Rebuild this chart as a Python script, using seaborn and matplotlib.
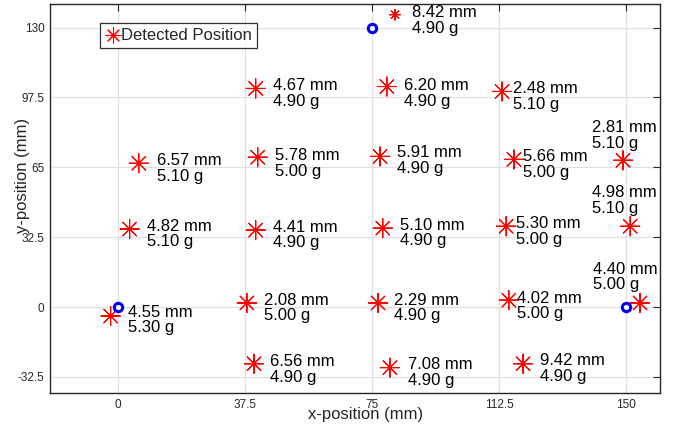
import numpy as np
import pandas as pd
import matplotlib
matplotlib.use("Agg")
import matplotlib.pyplot as plt
from matplotlib.ticker import FormatStrFormatter
import seaborn as sns

# true (reference) positions
ref_x = [0, 75, 150]
ref_y = [0, 130, 0]

# detected positions, with error (mm) and weight (g)
det_x = [81.8, 40.7, 79.4, 113.4, 6.2, 41.3, 77.4, 116.9, 149.1, 3.5, 40.7,
         78.2, 114.6, 151.2, -2.1, 38.1, 76.8, 115.4, 154.1, 40.2, 80.3, 119.6]
det_y = [136.0, 101.7, 102.6, 100.3, 66.9, 69.7, 70.1, 68.7, 68.3, 36.3, 35.8,
         36.7, 37.6, 37.6, -4.2, 1.9, 1.9, 3.2, 1.9, -26.4, -28.2, -26.4]
err_mm = ["8.42", "4.67", "6.20", "2.48", "6.57", "5.78", "5.91", "5.66", "2.81",
          "4.82", "4.41", "5.10", "5.30", "4.98", "4.55", "2.08", "2.29", "4.02",
          "4.40", "6.56", "7.08", "9.42"]
weight_g = ["4.90", "4.90", "4.90", "5.10", "5.10", "5.00", "4.90", "5.00", "5.10",
            "5.10", "4.90", "4.90", "5.00", "5.10", "5.30", "5.00", "4.90", "5.00",
            "5.00", "4.90", "4.90", "4.90"]

x_ticks = [0, 37.5, 75, 112.5, 150]
y_ticks = [-32.5, 0, 32.5, 65, 97.5, 130]

# label offsets in pixels (dx right, dy down)
lab_dx = [17, 17, 17, 11, 18, 17, 17, 9, -31, 17, 17, 17, 10, -38, 17, 17, 16, 8, -47, 16, 18, 17]
lab_dy = [6, 5, 7, 5, 5, 6, 4, 5, -25, 5, 5, 5, 5, -26, 4, 5, 5, 6, -26, 6, 5, 5]

df = pd.DataFrame({"x": det_x, "y": det_y, "mm": err_mm, "g": weight_g})

sns.set_style("white")
plt.rcParams["font.family"] = ["Liberation Sans", "DejaVu Sans"]

fig, ax = plt.subplots(figsize=(6.83, 4.25), dpi=100)
fig.subplots_adjust(left=0.0732, right=0.9663, top=0.9906, bottom=0.0753)

star = (8, 2, 0)
sizes = [60 if m == "8.42" else 190 for m in err_mm]
ax.scatter(df["x"], df["y"], marker=star, s=sizes, color="red", linewidths=0.8,
           label="Detected Position", zorder=3)
sns.scatterplot(x=ref_x, y=ref_y, ax=ax, marker="o", s=36, facecolor="white",
                edgecolor="blue", linewidth=2.2, zorder=4, legend=False)

for i, row in df.iterrows():
    ax.annotate(f"{row['mm']} mm\n{row['g']} g", (row["x"], row["y"]),
                xytext=(lab_dx[i], -lab_dy[i]), textcoords="offset pixels",
                ha="left", va="center", fontsize=12, linespacing=1.05, color="black")

ax.set_xlim(-20, 160)
ax.set_ylim(-40, 141)
ax.set_xticks(x_ticks)
ax.set_yticks(y_ticks)
ax.xaxis.set_major_formatter(FormatStrFormatter("%g"))
ax.yaxis.set_major_formatter(FormatStrFormatter("%g"))
ax.grid(True, color="#e0e0e0", linewidth=0.9)
ax.set_axisbelow(True)
ax.tick_params(direction="in", length=5, width=0.8, colors="#262626",
               labelsize=8.5, top=True, right=True, labeltop=False, labelright=False)
ax.tick_params(axis="y", pad=4)
ax.tick_params(axis="x", pad=4)
for sp in ax.spines.values():
    sp.set_color("#262626")
    sp.set_linewidth(1.0)

ax.set_xlabel("x-position (mm)", fontsize=12, color="#262626")
ax.set_ylabel("y-position (mm)", fontsize=12, color="#262626")
ax.xaxis.set_label_coords(0.518, -0.037)
ax.yaxis.set_label_coords(-0.033, 0.560)

leg = ax.legend(loc="upper left", bbox_to_anchor=(0.082, 0.952), fontsize=12,
                frameon=True, fancybox=False, edgecolor="black", handletextpad=0.05,
                handlelength=0.9, borderpad=0.3, borderaxespad=0)
leg.get_frame().set_linewidth(0.9)

fig.savefig("out.png", dpi=100)
